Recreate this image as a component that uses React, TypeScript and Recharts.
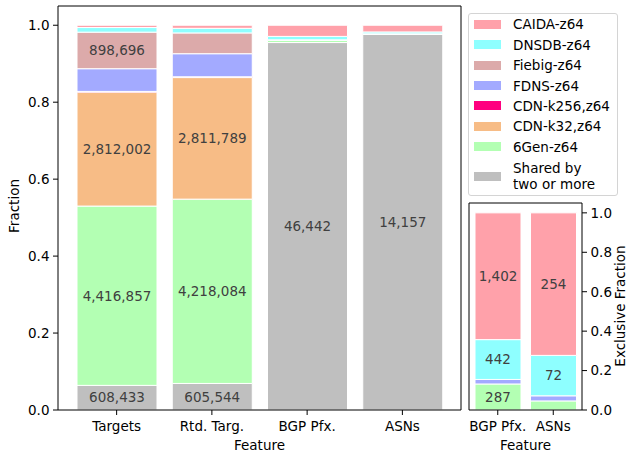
import React from "react";
import { BarChart, Bar, XAxis, YAxis, LabelList } from "recharts";

// categories
const features = ["Targets", "Rtd. Targ.", "BGP Pfx.", "ASNs"];
const exclFeatures = ["BGP Pfx.", "ASNs"];
const fracTicks = [0, 0.2, 0.4, 0.6, 0.8, 1.0];

// fraction of each feature, bottom of the stack first
const sharedFrac = [0.064, 0.069, 0.955, 0.976];
const gen6Frac = [0.466, 0.479, 0.006, 0.001];
const cdn32Frac = [0.296, 0.316, 0, 0];
const cdn256Frac = [0.002, 0.002, 0, 0];
const fdnsFrac = [0.059, 0.06, 0.001, 0.0006];
const fiebigFrac = [0.095, 0.054, 0, 0];
const dnsdbFrac = [0.012, 0.012, 0.009, 0.005];
const caidaFrac = [0.006, 0.008, 0.029, 0.0174];

// counts printed in the segments
const sharedCounts = [608433, 605544, 46442, 14157];
const gen6Counts = [4416857, 4218084, null, null];
const cdn32Counts = [2812002, 2811789, null, null];
const fiebigCounts = [898696, null, null, null];

// exclusive fractions (inset)
const exclGen6Frac = [0.132, 0.046];
const exclFdnsFrac = [0.023, 0.026];
const exclDnsdbFrac = [0.202, 0.205];
const exclCaidaFrac = [0.643, 0.723];
const exclGen6Counts = [287, null];
const exclDnsdbCounts = [442, 72];
const exclCaidaCounts = [1402, 254];

const series = [
  { key: "shared", name: "Shared by\ntwo or more", color: "#bfbfbf" },
  { key: "gen6", name: "6Gen-z64", color: "#b3ffb3" },
  { key: "cdn32", name: "CDN-k32,z64", color: "#f7bc86" },
  { key: "cdn256", name: "CDN-k256,z64", color: "#ff007f" },
  { key: "fdns", name: "FDNS-z64", color: "#a3aaff" },
  { key: "fiebig", name: "Fiebig-z64", color: "#dcaaaa" },
  { key: "dnsdb", name: "DNSDB-z64", color: "#8effff" },
  { key: "caida", name: "CAIDA-z64", color: "#ffa1aa" },
];

const fmt = (v: number | null) => (v == null ? null : v.toLocaleString("en-US"));

const mainRows = features.map((feature, i) => ({
  feature,
  shared: sharedFrac[i],
  gen6: gen6Frac[i],
  cdn32: cdn32Frac[i],
  cdn256: cdn256Frac[i],
  fdns: fdnsFrac[i],
  fiebig: fiebigFrac[i],
  dnsdb: dnsdbFrac[i],
  caida: caidaFrac[i],
  sharedLabel: fmt(sharedCounts[i]),
  gen6Label: fmt(gen6Counts[i]),
  cdn32Label: fmt(cdn32Counts[i]),
  fiebigLabel: fmt(fiebigCounts[i]),
}));

const exclRows = exclFeatures.map((feature, i) => ({
  feature,
  gen6: exclGen6Frac[i],
  fdns: exclFdnsFrac[i],
  dnsdb: exclDnsdbFrac[i],
  caida: exclCaidaFrac[i],
  gen6Label: fmt(exclGen6Counts[i]),
  dnsdbLabel: fmt(exclDnsdbCounts[i]),
  caidaLabel: fmt(exclCaidaCounts[i]),
}));

const FONT = "DejaVu Sans";
const FS = 13.5;
const tickStyle = { fill: "#000", fontSize: FS, fontFamily: FONT };
const lineStyle = { stroke: "#000", strokeWidth: 1 };
const labelProps = { position: "center" as const, fill: "#404040", fontSize: FS, fontFamily: FONT };

const App: React.FC = () => {
  const mainLabels: Record<string, string> = {
    shared: "sharedLabel",
    gen6: "gen6Label",
    cdn32: "cdn32Label",
    fiebig: "fiebigLabel",
  };
  const exclLabels: Record<string, string> = {
    gen6: "gen6Label",
    dnsdb: "dnsdbLabel",
    caida: "caidaLabel",
  };
  const exclKeys = ["gen6", "fdns", "dnsdb", "caida"];

  return (
    <div style={{ position: "absolute", left: 0, top: 0, width: 629, height: 453, background: "#fff", fontFamily: FONT }}>
      <div style={{ position: "absolute", left: 0, top: 0 }}>
        <BarChart width={465} height={453} data={mainRows} margin={{ top: 5, right: 3, left: 0, bottom: 0 }} barSize={80}>
          <XAxis
            dataKey="feature"
            height={43}
            padding={{ left: 11, right: 11 }}
            interval={0}
            tick={tickStyle}
            tickLine={lineStyle}
            axisLine={lineStyle}
            tickSize={5}
            tickMargin={6}
            label={{
              content: () => (
                <text x={259.5} y={449.5} textAnchor="middle" fontSize={FS} fontFamily={FONT} fill="#000">
                  Feature
                </text>
              ),
            }}
          />
          <XAxis xAxisId="top" orientation="top" dataKey="feature" height={1} tick={false} tickLine={false} axisLine={lineStyle} />
          <YAxis
            type="number"
            domain={[0, 1.05]}
            ticks={fracTicks}
            tickFormatter={(v: number) => v.toFixed(1)}
            width={58}
            tick={tickStyle}
            tickLine={lineStyle}
            axisLine={lineStyle}
            tickSize={5}
            tickMargin={3.5}
            label={{
              content: () => (
                <text x={19} y={206} transform="rotate(-90 19 206)" textAnchor="middle" fontSize={FS} fontFamily={FONT} fill="#000">
                  Fraction
                </text>
              ),
            }}
          />
          <YAxis yAxisId="right" orientation="right" width={1} domain={[0, 1.05]} tick={false} tickLine={false} axisLine={lineStyle} />
          {series.map((s) => (
            <Bar key={s.key} dataKey={s.key} stackId="a" fill={s.color} stroke="#fff" strokeWidth={1} isAnimationActive={false}>
              {mainLabels[s.key] && <LabelList dataKey={mainLabels[s.key]} {...labelProps} />}
            </Bar>
          ))}
        </BarChart>
      </div>

      <div style={{ position: "absolute", left: 460, top: 0 }}>
        <BarChart width={169} height={453} data={exclRows} margin={{ top: 202, right: 0, left: 8, bottom: 0 }} barSize={46}>
          <XAxis
            dataKey="feature"
            height={43}
            padding={{ left: 1, right: 1 }}
            interval={0}
            tick={tickStyle}
            tickLine={lineStyle}
            axisLine={lineStyle}
            tickSize={5}
            tickMargin={6}
            label={{
              content: () => (
                <text x={65.5} y={449.5} textAnchor="middle" fontSize={FS} fontFamily={FONT} fill="#000">
                  Feature
                </text>
              ),
            }}
          />
          <XAxis xAxisId="top" orientation="top" dataKey="feature" height={1} tick={false} tickLine={false} axisLine={lineStyle} />
          <YAxis yAxisId="left" orientation="left" width={1} domain={[0, 1.05]} tick={false} tickLine={false} axisLine={lineStyle} />
          <YAxis
            orientation="right"
            type="number"
            domain={[0, 1.05]}
            ticks={fracTicks}
            tickFormatter={(v: number) => v.toFixed(1)}
            width={47}
            tick={tickStyle}
            tickLine={lineStyle}
            axisLine={lineStyle}
            tickSize={5}
            tickMargin={3.5}
            label={{
              content: () => (
                <text x={165} y={306} transform="rotate(-90 165 306)" textAnchor="middle" fontSize={FS} fontFamily={FONT} fill="#000">
                  Exclusive Fraction
                </text>
              ),
            }}
          />
          {series
            .filter((s) => exclKeys.includes(s.key))
            .map((s) => (
              <Bar key={s.key} dataKey={s.key} stackId="a" fill={s.color} stroke="#fff" strokeWidth={1} isAnimationActive={false}>
                {exclLabels[s.key] && <LabelList dataKey={exclLabels[s.key]} {...labelProps} />}
              </Bar>
            ))}
        </BarChart>
      </div>

      <div
        style={{
          position: "absolute",
          left: 468,
          top: 13,
          width: 148,
          height: 181,
          border: "1px solid #d4d4d4",
          borderRadius: 3,
          background: "#fff",
          fontSize: FS,
          color: "#000",
        }}
      >
        {[...series].reverse().map((s, i) => {
          const lines = s.name.split("\n");
          const cy = lines.length > 1 ? 162 : 10.3 + 20.4 * i;
          return (
            <React.Fragment key={s.key}>
              <div
                style={{
                  position: "absolute",
                  left: 5,
                  top: cy - 4.5,
                  width: 27,
                  height: 9,
                  background: s.color,
                }}
              />
              <div
                style={{
                  position: "absolute",
                  left: 44,
                  top: cy - (lines.length * 16) / 2,
                  lineHeight: "16px",
                  whiteSpace: "pre",
                }}
              >
                {s.name}
              </div>
            </React.Fragment>
          );
        })}
      </div>
    </div>
  );
};

export default App;
